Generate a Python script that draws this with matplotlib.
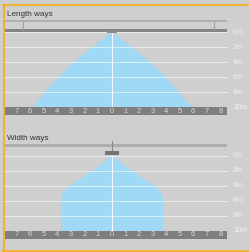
import numpy as np
import matplotlib
matplotlib.use('Agg')
import matplotlib.pyplot as plt

plt.rcParams['font.family'] = ['Liberation Sans', 'DejaVu Sans']

# beam spread: depth in metres, half width in grid units
len_depth = [0, 0.3, 0.67, 1, 2, 3, 4, 5, 6, 7, 8, 9, 10]
len_half = [0, 0.3, 0.55, 0.8, 1.5, 2.2, 2.85, 3.45, 3.97, 4.47, 4.95, 5.43, 5.9]
wid_depth = [0, 1, 2, 3, 4, 4.5, 5, 5.5, 6, 10]
wid_half = [0, 0.72, 1.45, 2.3, 3.15, 3.45, 3.65, 3.73, 3.75, 3.75]

x_ticks = list(range(-7, 9))
depth_ticks = [0, 2, 4, 6, 8, 10]
titles = ['Length ways', 'Width ways']

W, H = 249, 252
X0, SX, SY = 111.5, 13.6, 7.5   # pixel of x=0, px per unit, px per metre
bg = '#cfcfcf'
blue = '#9fd9f6'

fig = plt.figure(figsize=(W / 100, H / 100), dpi=100, facecolor=bg)


def u(px):
    return (px - X0) / SX


def panel(top_px, bot_px, zero_px):
    ax = fig.add_axes([0, 1 - bot_px / H, 1, (bot_px - top_px) / H])
    ax.set_xlim(u(0), u(W))
    ax.set_ylim((bot_px - zero_px) / SY, (top_px - zero_px) / SY)
    ax.axis('off')
    m = lambda px: (px - zero_px) / SY
    return ax, m


def common(ax, m, depth, half, axis_bottom_px):
    ax.fill_betweenx(depth, [-h for h in half], half, color=blue, lw=0, zorder=1)
    for d in depth_ticks[:-1]:
        ax.plot([u(5), u(227)], [d, d], color='white', alpha=0.7, lw=0.6, zorder=2)
    ax.plot([0, 0], [0, 10], color='white', alpha=0.85, lw=0.8, zorder=2)
    ax.fill_between([u(5), u(227)], 10, axis_bottom_px, color='#7e7e7e', lw=0, zorder=3)
    for t in x_ticks:
        ax.text(t, (10 + axis_bottom_px) / 2, str(abs(t)), color='#dcdcdc', fontsize=5.4,
                ha='center', va='center', zorder=4)
    for d in depth_ticks:
        ax.text(u(233), d, f'{d}m', color='#f2f2f2', fontsize=5.2, ha='left', va='center')


# top panel
ax1, m1 = panel(5, 122, 32.3)
ax1.fill_between([u(5), u(227)], m1(20), m1(22), color='#b0b0b0', lw=0)
for hx in [23, 214]:
    ax1.plot([u(hx), u(hx)], [m1(22), m1(29.5)], color='#a0a0a0', lw=0.8)
ax1.fill_between([u(5), u(227)], m1(29.3), m1(31.6), color='#858585', lw=0)
ax1.fill_between([u(107), u(117)], m1(31.3), m1(32.6), color='#8c8c8c', lw=0, zorder=3)
common(ax1, m1, len_depth, len_half, m1(115))

# bottom panel
ax2, m2 = panel(122, 250, 155.5)
ax2.fill_between([u(5), u(227)], m2(143.8), m2(146.8), color='#adadad', lw=0)
ax2.plot([0, 0], [m2(141), m2(151.5)], color='#8a8a8a', lw=0.9)
ax2.fill_between([u(105), u(118.5)], m2(150.8), m2(154.5), color='#737373', lw=0, zorder=3)
common(ax2, m2, wid_depth, wid_half, m2(239))

fig.text(7 / W, 1 - 14 / H, titles[0], fontsize=5.9, color='#333333', va='center')
fig.text(7 / W, 1 - 138 / H, titles[1], fontsize=5.9, color='#333333', va='center')

# orange frame
orange = '#f3b023'
fig.add_artist(plt.Line2D([3.5 / W, 3.5 / W], [1 - 4.5 / H, 1 - 250.5 / H], color=orange, lw=1.3))
fig.add_artist(plt.Line2D([3 / W, 1], [1 - 4.5 / H, 1 - 4.5 / H], color=orange, lw=1.3))
fig.add_artist(plt.Line2D([3 / W, 1], [1 - 250.5 / H, 1 - 250.5 / H], color=orange, lw=1.3))

fig.savefig('out.png', dpi=100, facecolor=bg)
